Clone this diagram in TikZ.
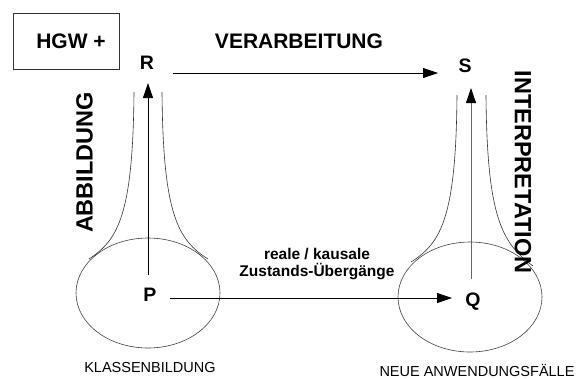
\documentclass[tikz,border=0pt]{standalone}
\usepackage{fontspec}
\setmainfont{Liberation Sans}
\usetikzlibrary{arrows.meta,calc,shapes.geometric}
\begin{document}
\begin{tikzpicture}[x=1pt,y=-1pt,
  lbl/.style={font=\bfseries\fontsize{19.5}{19.5}\selectfont, inner sep=0pt},
  big/.style={font=\bfseries\fontsize{21}{21}\selectfont, inner sep=0pt},
  side/.style={font=\bfseries\fontsize{23.5}{23.5}\selectfont, inner sep=0pt},
  foot/.style={font=\fontsize{14.5}{14.5}\selectfont, inner sep=0pt},
  arr/.style={-{Triangle[length=15pt,width=10pt,color=black]}, line width=0.8pt},
  funnel/.style={line width=0.6pt, draw=black!80},
  blob/.style={ellipse, draw=black!75, line width=0.6pt, minimum width=144pt, minimum height=110pt, inner sep=0pt}
]
\useasboundingbox (0,0) rectangle (581,378);
% box
\node[draw=black!80, line width=0.6pt, minimum width=106pt, minimum height=56pt, inner sep=0pt] (box) at (66,41) {};
\node[big] (hgw) at (71,41) {HGW +};
\node[big] (verarb) at (299,41) {VERARBEITUNG};
% points
\node[lbl] (R) at (147,63) {R};
\node[lbl] (S) at (465,66) {S};
\node[lbl] (P) at (150,295) {P};
\node[lbl] (Q) at (473,302) {Q};
% ellipses
\node[blob] (EP) at (148,293) {};
\node[blob] (EQ) at (470,297) {};
% funnels
\draw[funnel] (134,92) .. controls (133,215) and (118,240) .. (89,259);
\draw[funnel] (162,92) .. controls (163,215) and (178,240) .. (208,259);
\draw[funnel] (457,95) .. controls (456,218) and (441,243) .. (411,262);
\draw[funnel] (486,95) .. controls (487,218) and (502,243) .. (533,266);
% arrows
\draw[arr] ($(R)+(26,10)$) -- ($(S)+(-27,7)$);
\draw[arr] ($(P)+(-2,-20)$) -- ($(R)+(1,20)$);
\draw[arr] ($(P)+(20,3)$) -- ($(Q)+(-21,-4)$);
\draw[arr, draw=black!60] ($(Q)+(-2,-23)$) -- ($(S)+(6,22)$);
% side labels
\node[side, rotate=90] (abb) at (84.5,162.5) {ABBILDUNG};
\node[side, rotate=-90] (interp) at (523,172) {INTERPRETATION};
% transition label
\node[font=\bfseries\fontsize{15.5}{17.5}\selectfont, align=center, inner sep=0pt] (trans) at (317,264) {reale / kausale\\Zustands-Übergänge};
% footers
\node[foot] (kl) at (150,368) {KLASSENBILDUNG};
\node[foot] (neu) at (477,370) {NEUE ANWENDUNGSFÄLLE};
\end{tikzpicture}
\end{document}
